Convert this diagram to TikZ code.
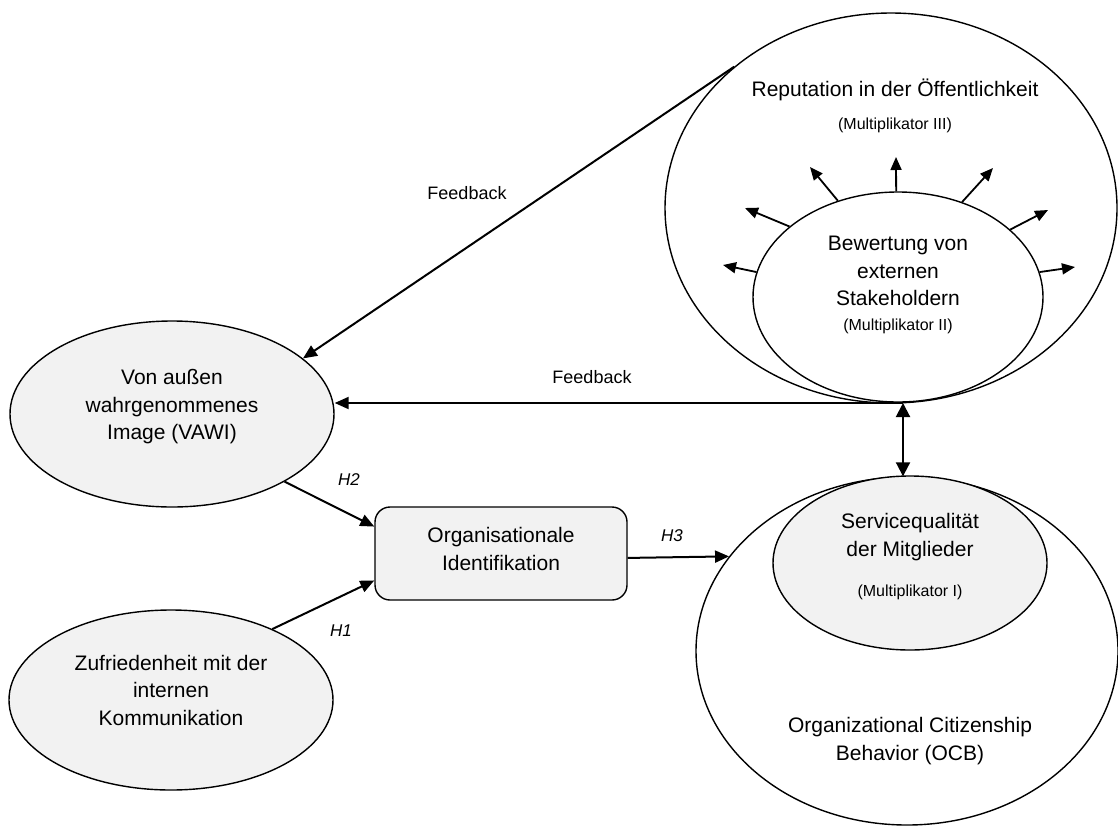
\documentclass[tikz,border=0pt]{standalone}
\usepackage{fontspec}
\setmainfont{Liberation Sans}
\usetikzlibrary{arrows.meta,shapes.geometric}
\newcommand\mainf{\fontsize{21}{27.5}\selectfont}
\newcommand\smallf{\fontsize{16}{19}\selectfont}
\newcommand\fbf{\fontsize{18}{22}\selectfont}
\newcommand\hypf{\fontsize{17}{20}\selectfont\itshape}
\definecolor{greyfill}{RGB}{242,242,242}
\begin{document}
\begin{tikzpicture}[x=1pt,y=-1pt,
  ell/.style={ellipse,draw=black,line width=1.4pt,inner sep=0pt},
  greyell/.style={ell,fill=greyfill},
  whiteell/.style={ell,fill=white},
  txt/.style={align=center,font=\mainf,inner sep=0pt},
  smalltxt/.style={align=center,font=\smallf,inner sep=0pt},
  fbtxt/.style={font=\fbf,inner sep=0pt},
  htxt/.style={font=\hypf,inner sep=0pt},
  arr/.style={line width=2pt,-{Triangle[length=14pt,width=12pt]}},
  smallarr/.style={line width=1.8pt,-{Triangle[length=13pt,width=11pt]}},
  dblarr/.style={line width=2pt,{Triangle[length=14pt,width=14pt]}-{Triangle[length=14pt,width=14pt]}}
]
\fill[white] (0,0) rectangle (1118,825);
\useasboundingbox (0,0) rectangle (1118,825);

% nodes
\node[whiteell,minimum width=452pt,minimum height=390pt] (rep) at (891,208) {};
\node[whiteell,minimum width=290pt,minimum height=210pt] (bew) at (898,297) {};
\node[greyell,minimum width=324pt,minimum height=186pt] (vawi) at (172,414) {};
\node[greyell,minimum width=324pt,minimum height=180pt] (zuf) at (171,700) {};
\node[draw=black,line width=1.4pt,fill=greyfill,rounded corners=15pt,
      minimum width=252pt,minimum height=93pt,inner sep=0pt] (box) at (501,553.5) {};
\node[whiteell,minimum width=422pt,minimum height=348pt] (ocb) at (907,651) {};
\node[greyell,minimum width=274pt,minimum height=174pt] (serv) at (910,563) {};

% texts
\node[txt] (reptxt) at (895,90) {Reputation in der Öffentlichkeit};
\node[smalltxt] (m3) at (895,125) {(Multiplikator III)};
\node[txt] (bewtxt) at (898,271) {Bewertung von\\externen\\Stakeholdern};
\node[smalltxt] (m2) at (898,326) {(Multiplikator II)};
\node[txt] (vawitxt) at (172,407) {Von außen\\wahrgenommenes\\Image (VAWI)};
\node[txt] (zuftxt) at (171,690) {Zufriedenheit mit der\\internen\\Kommunikation};
\node[txt] (boxtxt) at (501,549) {Organisationale\\Identifikation};
\node[txt] (servtxt) at (910,537) {Servicequalität\\der Mitglieder};
\node[smalltxt] (m1) at (910,592) {(Multiplikator I)};
\node[txt] (ocbtxt) at (910,741) {Organizational Citizenship\\Behavior (OCB)};

\node[fbtxt] (fb1) at (467,193) {Feedback};
\node[fbtxt] (fb2) at (592,377) {Feedback};
\node[htxt] (h2) at (349,480) {H2};
\node[htxt] (h1) at (341,631) {H1};
\node[htxt] (h3) at (672,536) {H3};

% radiating arrows
\coordinate (r1) at (810,167);
\coordinate (r2) at (896,157);
\coordinate (r3) at (993,168);
\coordinate (r4) at (745,208);
\coordinate (r5) at (1048,210);
\coordinate (r6) at (723,265);
\coordinate (r7) at (1075,267);
\draw[smallarr] (bew.122) -- (r1);
\draw[smallarr] (bew.91) -- (r2);
\draw[smallarr] (bew.56) -- (r3);
\draw[smallarr] (bew.147) -- (r4);
\draw[smallarr] (bew.31) -- (r5);
\draw[smallarr] (bew.170) -- (r6);
\draw[smallarr] (bew.10) -- (r7);

% feedback arrows
\draw[arr] (rep.138) -- (vawi.23);
\coordinate (fbr) at (903,403);
\draw[arr] (fbr) -- (fbr -| vawi.east);
\draw[dblarr] (fbr) -- (fbr |- ocb.north);

% hypotheses
\draw[arr] (vawi.-31) -- (box.168.1);
\draw[arr] (zuf.35) -- (box.192.3);
\draw[arr] (box.-2.5) -- (ocb.152.8);
\end{tikzpicture}
\end{document}
